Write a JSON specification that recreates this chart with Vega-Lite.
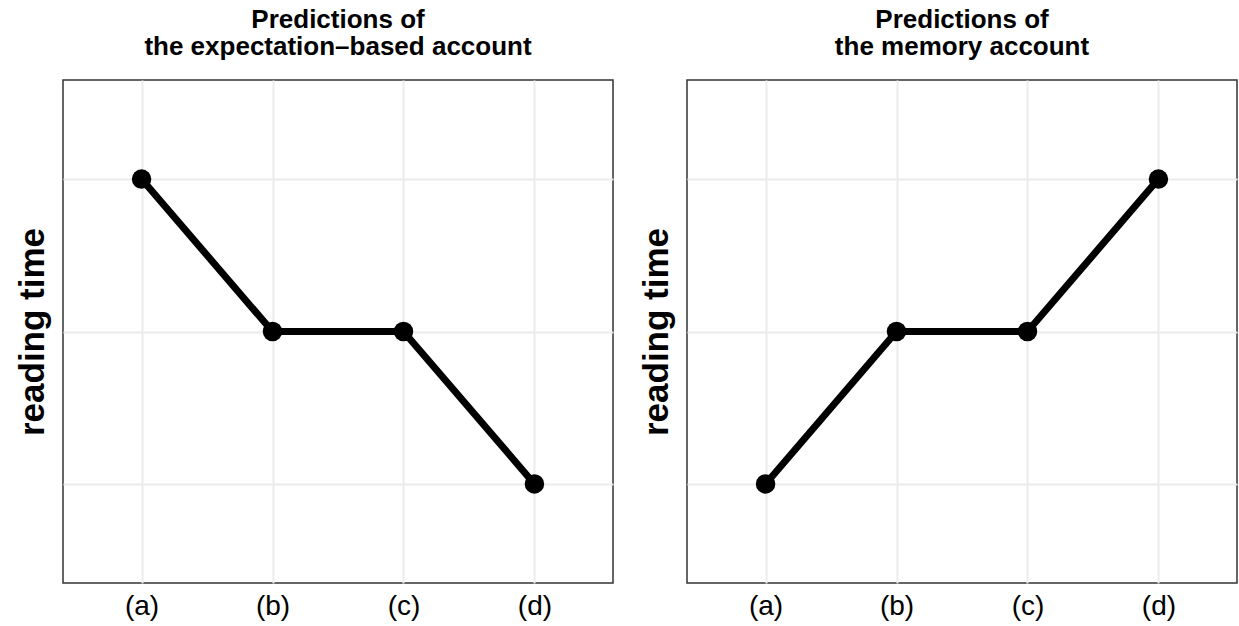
{
  "$schema": "https://vega.github.io/schema/vega-lite/v6.json",
  "background": "white",
  "padding": {"left": 14, "top": 6, "right": 0, "bottom": 0},
  "spacing": 24,
  "datasets": {
    "pred": [
      {"panel": "expectation", "cond": "(a)", "rt": 3},
      {"panel": "expectation", "cond": "(b)", "rt": 2},
      {"panel": "expectation", "cond": "(c)", "rt": 2},
      {"panel": "expectation", "cond": "(d)", "rt": 1},
      {"panel": "memory", "cond": "(a)", "rt": 1},
      {"panel": "memory", "cond": "(b)", "rt": 2},
      {"panel": "memory", "cond": "(c)", "rt": 2},
      {"panel": "memory", "cond": "(d)", "rt": 3}
    ]
  },
  "hconcat": [
    {
      "width": 550,
      "height": 503,
      "title": {"text": ["Predictions of", "the expectation–based account"]},
      "data": {"name": "pred"},
      "transform": [{"filter": "datum.panel === 'expectation'"}],
      "encoding": {
        "x": {"field": "cond", "type": "ordinal", "scale": {"type": "point", "padding": 0.6}, "axis": {"title": null}},
        "y": {"field": "rt", "type": "quantitative", "scale": {"domain": [0.35, 3.65], "nice": false, "zero": false}, "axis": {"title": "reading time", "values": [1, 2, 3]}}
      },
      "layer": [
        {"mark": {"type": "line", "color": "black", "strokeWidth": 7}},
        {"mark": {"type": "point", "filled": true, "opacity": 1, "size": 380, "color": "black"}}
      ]
    },
    {
      "width": 550,
      "height": 503,
      "title": {"text": ["Predictions of", "the memory account"]},
      "data": {"name": "pred"},
      "transform": [{"filter": "datum.panel === 'memory'"}],
      "encoding": {
        "x": {"field": "cond", "type": "ordinal", "scale": {"type": "point", "padding": 0.6}, "axis": {"title": null}},
        "y": {"field": "rt", "type": "quantitative", "scale": {"domain": [0.35, 3.65], "nice": false, "zero": false}, "axis": {"title": "reading time", "values": [1, 2, 3]}}
      },
      "layer": [
        {"mark": {"type": "line", "color": "black", "strokeWidth": 7}},
        {"mark": {"type": "point", "filled": true, "opacity": 1, "size": 380, "color": "black"}}
      ]
    }
  ],
  "config": {
    "font": "Liberation Sans",
    "view": {"stroke": "#333333", "strokeWidth": 1.5},
    "title": {"fontSize": 26, "fontWeight": "bold", "color": "black", "anchor": "middle", "lineHeight": 27, "offset": 20, "font": "Liberation Sans"},
    "axis": {"gridColor": "#EBEBEB", "gridWidth": 2, "ticks": false, "domain": false},
    "axisX": {"grid": true, "labelFontSize": 28, "labelColor": "black", "labelPadding": 9, "labelAngle": 0, "labelFont": "Liberation Sans"},
    "axisY": {"labels": false, "titleFontSize": 35, "titleFontWeight": "bold", "titleColor": "black", "titlePadding": 13, "titleFont": "Liberation Sans"}
  }
}
